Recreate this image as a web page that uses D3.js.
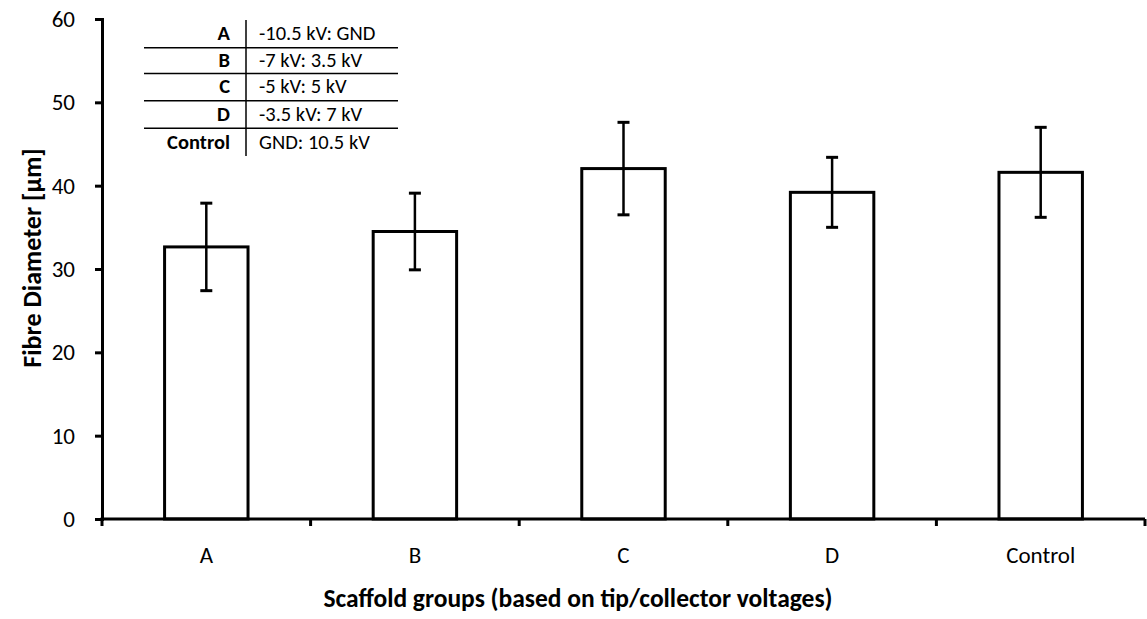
<!DOCTYPE html>
<html>
<head>
<meta charset="utf-8">
<script src="https://cdn.jsdelivr.net/npm/d3@7"></script>
<style>
  html, body { margin: 0; padding: 0; background: #fff; }
  svg { display: block; font-family: Carlito, Lato, "Open Sans", sans-serif; }
</style>
</head>
<body>
<svg id="chart" width="1147" height="619"></svg>
<script>
// Scaffold groups and mean fibre diameters (µm) with standard deviations
const groups = ["A", "B", "C", "D", "Control"];
const meanDiameter = [32.65, 34.5, 42.05, 39.2, 41.6];
const stdDev = [5.25, 4.6, 5.55, 4.2, 5.4];
const yTicks = [0, 10, 20, 30, 40, 50, 60];

// Tip : collector voltage key
const keyGroups = ["A", "B", "C", "D", "Control"];
const keyVoltages = ["-10.5 kV: GND", "-7 kV: 3.5 kV", "-5 kV: 5 kV", "-3.5 kV: 7 kV", "GND: 10.5 kV"];

const svg = d3.select("#chart");
const margin = { left: 102, right: 2, top: 19, bottom: 100 };
const width = 1147, height = 619;
const FONT = "Carlito, Lato, sans-serif";

const x = d3.scaleBand()
  .domain(groups)
  .range([margin.left, width - margin.right])
  .paddingInner(0.6)
  .paddingOuter(0.3);

const y = d3.scaleLinear()
  .domain([0, 60])
  .range([height - margin.bottom, margin.top]);

// Bars
svg.append("g").selectAll("rect")
  .data(groups)
  .join("rect")
  .attr("x", d => x(d))
  .attr("width", x.bandwidth())
  .attr("y", (d, i) => y(meanDiameter[i]))
  .attr("height", (d, i) => y(0) - y(meanDiameter[i]))
  .attr("fill", "#fff")
  .attr("stroke", "#000")
  .attr("stroke-width", 3);

// Error bars
const err = svg.append("g").attr("stroke", "#000");
groups.forEach((g, i) => {
  const cx = x(g) + x.bandwidth() / 2;
  const hi = y(meanDiameter[i] + stdDev[i]);
  const lo = y(meanDiameter[i] - stdDev[i]);
  err.append("line").attr("x1", cx).attr("x2", cx).attr("y1", hi).attr("y2", lo).attr("stroke-width", 2.5);
  [hi, lo].forEach(v => err.append("line")
    .attr("x1", cx - 6).attr("x2", cx + 6).attr("y1", v).attr("y2", v).attr("stroke-width", 3));
});

// Y axis
const yAxis = svg.append("g")
  .attr("transform", `translate(${margin.left},0)`)
  .call(d3.axisLeft(y).tickValues(yTicks).tickSize(7).tickSizeOuter(7).tickPadding(20));
yAxis.select(".domain").attr("stroke-width", 3);
yAxis.selectAll(".tick line").attr("stroke-width", 3);
yAxis.selectAll("text").attr("font-size", 23).attr("fill", "#000").attr("font-family", FONT);

// X axis with boundary ticks between groups
const xAxis = svg.append("g")
  .attr("transform", `translate(0,${y(0)})`);
const bounds = d3.range(groups.length + 1).map(i => margin.left + i * (width - margin.left - margin.right) / groups.length);
xAxis.append("line")
  .attr("x1", margin.left - 1.5).attr("x2", width - margin.right)
  .attr("stroke", "#000").attr("stroke-width", 3);
xAxis.selectAll(".btick").data(bounds).join("line")
  .attr("x1", d => d).attr("x2", d => d)
  .attr("y1", 0).attr("y2", 7)
  .attr("stroke", "#000").attr("stroke-width", 3);
xAxis.selectAll(".xlab").data(groups).join("text")
  .attr("x", d => x(d) + x.bandwidth() / 2)
  .attr("y", 43.5)
  .attr("text-anchor", "middle")
  .attr("font-size", 23)
  .text(d => d);

// Axis titles
svg.append("text")
  .attr("x", 578)
  .attr("y", 607)
  .attr("text-anchor", "middle")
  .attr("font-size", 25.5)
  .attr("font-weight", "bold")
  .text("Scaffold groups (based on tip/collector voltages)");

svg.append("text")
  .attr("transform", `translate(41,258) rotate(-90)`)
  .attr("text-anchor", "middle")
  .attr("font-size", 26)
  .attr("font-weight", "bold")
  .text("Fibre Diameter [µm]");

// Voltage key table
const key = svg.append("g");
const rowBase = [40, 66.7, 93.3, 121, 149.3];
const rowLines = [47.7, 73.5, 100.7, 128.3];
key.selectAll(".rl").data(rowLines).join("line")
  .attr("x1", 144).attr("x2", 398)
  .attr("y1", d => d).attr("y2", d => d)
  .attr("stroke", "#000").attr("stroke-width", 1.5);
key.append("line")
  .attr("x1", 246).attr("x2", 246).attr("y1", 20).attr("y2", 156)
  .attr("stroke", "#000").attr("stroke-width", 1.5);
key.selectAll(".kg").data(keyGroups).join("text")
  .attr("x", 230).attr("y", (d, i) => rowBase[i])
  .attr("text-anchor", "end")
  .attr("font-size", 20.5)
  .attr("font-weight", "bold")
  .text(d => d);
key.selectAll(".kv").data(keyVoltages).join("text")
  .attr("x", 259).attr("y", (d, i) => rowBase[i])
  .attr("font-size", 20.5)
  .text(d => d);
</script>
</body>
</html>
